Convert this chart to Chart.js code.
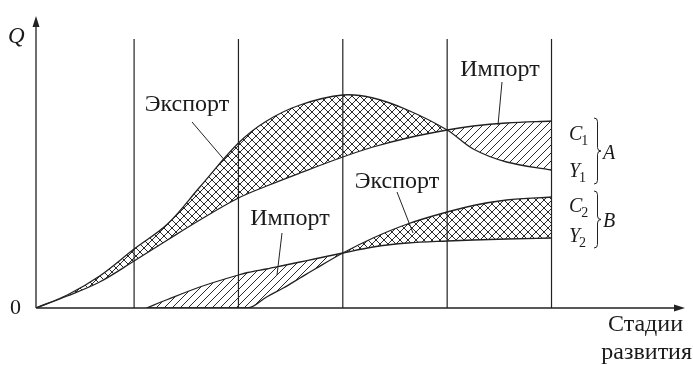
<!DOCTYPE html>
<html>
<head>
<meta charset="utf-8">
<style>
  html, body { margin: 0; padding: 0; background: #fff; }
  #wrap { width: 693px; height: 365px; }
</style>
</head>
<body>
<div id="wrap"><canvas id="myChart" width="693" height="365"></canvas></div>
<script src="https://cdn.jsdelivr.net/npm/chart.js"></script>
<script>
// stage boundaries (x in stage units) and their height
const stageX = [0.94, 1.94, 2.94, 3.94, 4.94];
const stageTop = 269;

// country A: production Y1 and consumption C1
const xA = [0, 0.30, 0.61, 0.94, 1.26, 1.57, 1.94, 2.21, 2.53, 2.94, 3.23, 3.56, 3.94, 4.19, 4.51, 4.94];
const y1 = [0, 13, 32, 59, 84, 121, 165, 187, 203, 213, 210, 198, 178, 159, 146, 138];
const c1 = [0, 12, 26, 47, 68, 88, 110, 122, 135, 151, 161, 170, 178, 182, 185, 187];

// country B
const xB = [1.06, 1.26, 1.57, 1.94, 2.03, 2.21, 2.37, 2.53, 2.69, 2.94, 3.23, 3.56, 3.94, 4.19, 4.51, 4.94];
const c2 = [0, 0, 0, 0, 0, 11, 20, 30, 40, 55, 70, 84, 96, 102.5, 108, 111];
const y2 = [0, 8.5, 21, 33, 35.5, 39, 42.5, 46, 49.5, 55, 61, 65, 67, 68, 69, 70];

const ink = '#222';

function makePattern(cross) {
  const s = 8;
  const c = document.createElement('canvas');
  c.width = c.height = s;
  const g = c.getContext('2d');
  g.strokeStyle = '#2a2a2a';
  g.lineWidth = 1;
  g.beginPath();
  for (const k of [-s, 0, s]) {
    g.moveTo(k, s); g.lineTo(k + s, 0);
    if (cross) { g.moveTo(k, 0); g.lineTo(k + s, s); }
  }
  g.stroke();
  return g.createPattern(c, 'repeat');
}
const crossHatch = makePattern(true);
const lineHatch = makePattern(false);

function pts(xs, ys) { return xs.map((x, i) => ({ x: x, y: ys[i] })); }

const curve = (label, data, fill, mono) => ({
  label, data, fill,
  borderColor: ink, borderWidth: 1.3, pointRadius: 0,
  tension: 0.35,
  cubicInterpolationMode: mono ? 'monotone' : 'default'
});

const datasets = [
  curve('Y1', pts(xA, y1), { target: 1, above: crossHatch, below: lineHatch }),
  curve('C1', pts(xA, c1), false),
  curve('C2', pts(xB, c2), { target: 3, above: crossHatch, below: lineHatch }, true),
  curve('Y2', pts(xB, y2), false, true)
];
stageX.forEach(x => datasets.push({
  label: 'stage', data: [{ x, y: 0 }, { x, y: stageTop }],
  borderColor: ink, borderWidth: 1.2, pointRadius: 0, fill: false
}));

const decor = {
  id: 'decor',
  afterDraw(chart) {
    const ctx = chart.ctx, a = chart.chartArea;
    const ox = chart.scales.x.getPixelForValue(0);
    const oy = chart.scales.y.getPixelForValue(0);
    ctx.save();
    ctx.strokeStyle = ink; ctx.fillStyle = ink; ctx.lineWidth = 1.3;
    // axes with arrows
    ctx.beginPath();
    ctx.moveTo(ox, oy); ctx.lineTo(ox, a.top + 4);
    ctx.moveTo(ox, oy); ctx.lineTo(a.right - 4, oy);
    ctx.stroke();
    ctx.beginPath();
    ctx.moveTo(ox, a.top - 2); ctx.lineTo(ox - 3.5, a.top + 9); ctx.lineTo(ox + 3.5, a.top + 9); ctx.closePath();
    ctx.moveTo(a.right + 2, oy); ctx.lineTo(a.right - 9, oy - 3.5); ctx.lineTo(a.right - 9, oy + 3.5); ctx.closePath();
    ctx.fill();

    const serif = '"Liberation Serif", "DejaVu Serif", serif';
    ctx.fillStyle = '#1a1a1a';
    ctx.textBaseline = 'alphabetic';
    ctx.font = 'italic 23px ' + serif;
    ctx.textAlign = 'left';
    ctx.fillText('Q', 8, 43);
    ctx.font = '22px ' + serif;
    ctx.fillText('0', 10, 314);

    ctx.font = '24px ' + serif;
    ctx.textAlign = 'right';
    ctx.fillText('Стадии', 683, 331);
    ctx.fillText('развития', 692, 359);

    ctx.textAlign = 'center';
    ctx.fillText('Экспорт', 187, 111);
    ctx.fillText('Импорт', 290, 225);
    ctx.fillText('Импорт', 500, 76);
    ctx.fillText('Экспорт', 397, 188);

    // leader lines
    ctx.lineWidth = 1;
    ctx.beginPath();
    ctx.moveTo(192, 122); ctx.lineTo(227, 163);
    ctx.moveTo(282, 233); ctx.lineTo(277, 275);
    ctx.moveTo(502, 82); ctx.lineTo(498, 125);
    ctx.moveTo(397, 192); ctx.lineTo(413, 233);
    ctx.stroke();

    // curve names
    const sub = (letter, idx, x, y) => {
      ctx.textAlign = 'left';
      ctx.font = 'italic 20px ' + serif;
      ctx.fillText(letter, x, y);
      const w = ctx.measureText(letter).width;
      ctx.font = '14px ' + serif;
      ctx.fillText(idx, x + w - 1, y + 5);
    };
    sub('C', '1', 569, 140);
    sub('Y', '1', 569, 177);
    sub('C', '2', 569, 212);
    sub('Y', '2', 569, 242);
    ctx.font = 'italic 20px ' + serif;
    ctx.textAlign = 'left';
    ctx.fillText('A', 603, 159);
    ctx.fillText('B', 603, 227);

    const brace = (x, top, bot, w) => {
      const mid = (top + bot) / 2;
      ctx.beginPath();
      ctx.moveTo(x, top);
      ctx.quadraticCurveTo(x + w, top, x + w, top + w);
      ctx.lineTo(x + w, mid - w);
      ctx.quadraticCurveTo(x + w, mid, x + 2 * w, mid);
      ctx.quadraticCurveTo(x + w, mid, x + w, mid + w);
      ctx.lineTo(x + w, bot - w);
      ctx.quadraticCurveTo(x + w, bot, x, bot);
      ctx.stroke();
    };
    ctx.lineWidth = 1;
    brace(594, 118, 184, 3.5);
    brace(594, 191, 248, 3.5);
    ctx.restore();
  }
};

new Chart(document.getElementById('myChart').getContext('2d'), {
  type: 'line',
  data: { datasets },
  options: {
    responsive: false,
    animation: false,
    layout: { padding: { left: 36, right: 10, top: 18, bottom: 57 } },
    scales: {
      x: { type: 'linear', min: 0, max: 6.2, display: false },
      y: { type: 'linear', min: 0, max: 290, display: false }
    },
    plugins: { legend: { display: false }, tooltip: { enabled: false } }
  },
  plugins: [decor]
});
</script>
</body>
</html>
